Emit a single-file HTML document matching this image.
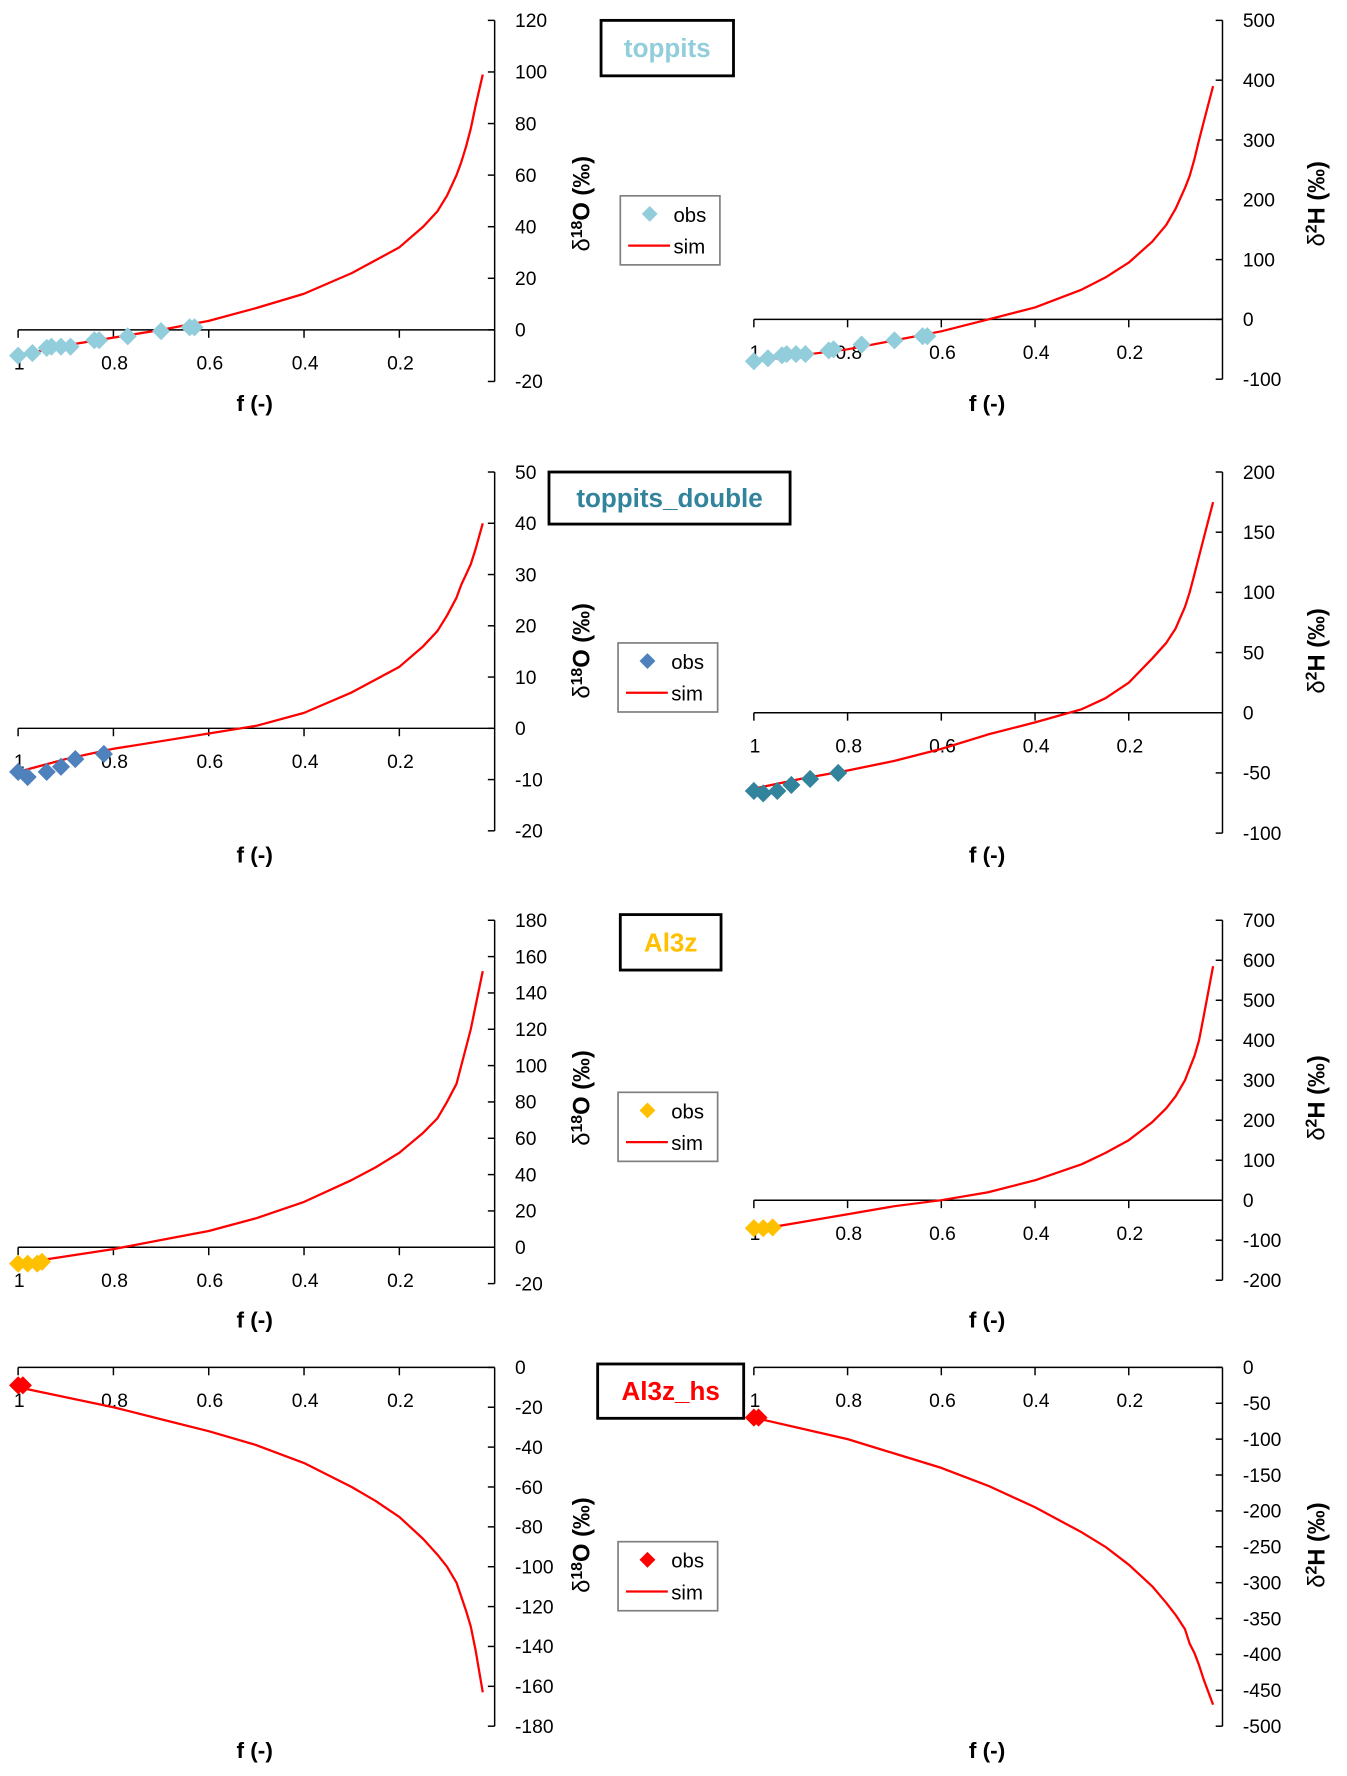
<!DOCTYPE html>
<html><head><meta charset="utf-8">
<style>
html,body{margin:0;padding:0;background:#fff;}
svg{display:block;font-family:"Liberation Sans",sans-serif;}
</style></head>
<body>
<svg id="fig" width="1347" height="1776" viewBox="0 0 1190 1569" preserveAspectRatio="none" xmlns="http://www.w3.org/2000/svg"></svg>
<script>
// ---- data ----
const simF = [1,0.9,0.8,0.7,0.6,0.5,0.4,0.3,0.25,0.2,0.15,0.12,0.1,0.08,0.07,0.06,0.05,0.04,0.025];
const simFH = [1,0.9,0.8,0.7,0.6,0.5,0.4,0.3,0.25,0.2,0.15,0.12,0.1,0.08,0.07,0.06,0.05,0.04,0.02];
const xTicks = [1,0.8,0.6,0.4,0.2];

const p1O_sim = [-10,-6,-3,0,3.5,8.5,14,22,27,32,40,46,52,60,65,71,78,87,99];
const p1O_obsF = [1,0.97,0.94,0.93,0.91,0.89,0.84,0.83,0.77,0.70,0.64,0.63];
const p1O_obs = [-10,-9,-7,-6.5,-6.5,-6.5,-4,-4,-2.5,-0.5,1,1];
const p1O_ticks = [120,100,80,60,40,20,0,-20];
const p1H_sim = [-70,-60,-50,-35,-20,0,20,50,70,95,130,158,185,220,240,268,300,330,390];
const p1H_obsF = [1,0.97,0.94,0.93,0.91,0.89,0.84,0.83,0.77,0.70,0.64,0.63];
const p1H_obs = [-70,-65,-60,-58,-58,-58,-52,-50,-42,-35,-28,-28];
const p1H_ticks = [500,400,300,200,100,0,-100];

const p2O_sim = [-8.5,-6,-4,-2.5,-1,0.5,3,7,9.5,12,16,19,22,25.5,28,30,32,35,40];
const p2O_obsF = [1,0.98,0.94,0.91,0.88,0.82];
const p2O_obs = [-8.5,-9.5,-8.5,-7.5,-6,-5];
const p2O_ticks = [50,40,30,20,10,0,-10,-20];
const p2H_sim = [-63,-55,-48,-40,-30,-18,-8,3,12,25,45,58,70,88,100,115,130,145,175];
const p2H_obsF = [1,0.98,0.95,0.92,0.88,0.82];
const p2H_obs = [-65,-67,-65,-60,-55,-50];
const p2H_ticks = [200,150,100,50,0,-50,-100];

const p3O_sim = [-9,-5,-1,4,9,16,25,37,44,52,63,71,80,90,100,110,120,133,152];
const p3O_obsF = [1,0.98,0.96,0.95];
const p3O_obs = [-9,-9,-9,-8];
const p3O_ticks = [180,160,140,120,100,80,60,40,20,0,-20];
const p3H_sim = [-75,-55,-35,-15,0,20,50,90,118,150,195,230,260,300,330,360,400,460,585];
const p3H_obsF = [1,0.98,0.96];
const p3H_obs = [-70,-70,-68];
const p3H_ticks = [700,600,500,400,300,200,100,0,-100,-200];

const p4O_sim = [-10,-15,-20,-26,-32,-39,-48,-60,-67,-75,-86,-94,-100,-108,-115,-122,-130,-142,-163];
const p4O_obsF = [1,0.99];
const p4O_obs = [-9,-9];
const p4O_ticks = [0,-20,-40,-60,-80,-100,-120,-140,-160,-180];
const p4H_sim = [-70,-85,-100,-120,-140,-165,-195,-230,-250,-275,-305,-328,-345,-365,-385,-398,-415,-435,-470];
const p4H_obsF = [1,0.99];
const p4H_obs = [-70,-70];
const p4H_ticks = [0,-50,-100,-150,-200,-250,-300,-350,-400,-450,-500];

// ---- drawing ----
const NS="http://www.w3.org/2000/svg";
const svg=document.getElementById('fig');
function mk(tag,attrs,parent,text){const e=document.createElementNS(NS,tag);for(const k in attrs)e.setAttribute(k,attrs[k]);if(text!==undefined)e.textContent=text;(parent||svg).appendChild(e);return e;}

function chart(cfg){
  const g=mk('g',{});
  
  
  const x0=cfg.left, x1=cfg.axisX;
  const fx=f=>x0+(1-f)*(x1-x0);
  const vmax=cfg.ticks[0], vmin=cfg.ticks[cfg.ticks.length-1];
  const fy=v=>cfg.top+(vmax-v)/(vmax-vmin)*(cfg.bottom-cfg.top);
  const ya=mk('line',{x1:x1,y1:cfg.top,x2:x1,y2:cfg.bottom,stroke:'#000','stroke-width':1.3},g);
  
  cfg.ticks.forEach(t=>{
    const y=fy(t);
    mk('line',{x1:x1-6,y1:y,x2:x1,y2:y,stroke:'#000','stroke-width':1.3},g);
    const tl=mk('text',{x:x1+18,y:y+6,'font-size':17},g,String(t));
    
  });
  const y0=fy(0);
  const xa=mk('line',{x1:x0,y1:y0,x2:x1,y2:y0,stroke:'#000','stroke-width':1.3},g);
  
  xTicks.forEach(t=>{
    const x=fx(t);
    mk('line',{x1:x,y1:y0,x2:x,y2:y0+7,stroke:'#000','stroke-width':1.3},g);
    const xl=mk('text',{x:x+1,y:y0+cfg.xlabOff,'font-size':17,'text-anchor':'middle'},g,String(t));
    
  });
  const pts=cfg.simF.map((f,i)=>fx(f).toFixed(1)+','+fy(cfg.sim[i]).toFixed(1)).join(' ');
  const pl=mk('polyline',{points:pts,fill:'none',stroke:'#ff0000','stroke-width':2,'stroke-linejoin':'round'},g);
  
  cfg.obsF.forEach((f,i)=>{
    const x=fx(f),y=fy(cfg.obs[i]),s=8;
    const d=mk('polygon',{points:`${x},${y-s} ${x+s},${y} ${x},${y+s} ${x-s},${y}`,fill:cfg.color},g);
    
  });
  const xt=mk('text',{x:cfg.xtX,y:cfg.xtY,'font-size':20,'font-weight':'bold','text-anchor':'middle'},g,'f (-)');
  
  const yt=mk('text',{transform:`translate(${cfg.ytX},${cfg.ytY}) rotate(-90)`,'font-size':21,'font-weight':'bold','text-anchor':'middle'},g);
  
  mk('tspan',{'font-weight':'normal'},yt,'δ');
  mk('tspan',{'font-size':14,dy:-7},yt,cfg.iso==='O'?'18':'2');
  mk('tspan',{dy:7},yt,(cfg.iso==='O'?'O':'H')+' (‰)');
}

function legend(x,y,color,name){
  const g=mk('g',{});
  
  mk('rect',{x:x,y:y,width:88,height:61,fill:'#fff',stroke:'#808080','stroke-width':1.5},g);
  mk('polygon',{points:`${x+26},${y+9} ${x+33},${y+16} ${x+26},${y+23} ${x+19},${y+16}`,fill:color},g);
  const a=mk('text',{x:x+47,y:y+23,'font-size':18},g,'obs');
  
  mk('line',{x1:x+7,y1:y+44,x2:x+44,y2:y+44,stroke:'#ff0000','stroke-width':2},g);
  const b=mk('text',{x:x+47,y:y+51,'font-size':18},g,'sim');
  
}
function titleBox(x,y,w,h,color,txt){
  const g=mk('g',{});
  
  mk('rect',{x:x,y:y,width:w,height:h,fill:'#fff',stroke:'#000','stroke-width':2.5},g);
  mk('text',{x:x+w/2,y:y+h/2+8,'font-size':23,'font-weight':'bold',fill:color,'text-anchor':'middle'},g,txt);
}

const rows=[
 {top:18,bot:337,topH:18,botH:335,xtY:363,O:[p1O_sim,p1O_obsF,p1O_obs,p1O_ticks],H:[p1H_sim,p1H_obsF,p1H_obs,p1H_ticks],cO:'#92cddc',cH:'#92cddc',yt:180},
 {top:417,bot:734,topH:417,botH:736,xtY:762,O:[p2O_sim,p2O_obsF,p2O_obs,p2O_ticks],H:[p2H_sim,p2H_obsF,p2H_obs,p2H_ticks],cO:'#4f81bd',cH:'#31849b',yt:575},
 {top:813,bot:1134,topH:813,botH:1131,xtY:1173,O:[p3O_sim,p3O_obsF,p3O_obs,p3O_ticks],H:[p3H_sim,p3H_obsF,p3H_obs,p3H_ticks],cO:'#ffc000',cH:'#ffc000',yt:970},
 {top:1208,bot:1525,topH:1208,botH:1525,xtY:1553,O:[p4O_sim,p4O_obsF,p4O_obs,p4O_ticks],H:[p4H_sim,p4H_obsF,p4H_obs,p4H_ticks],cO:'#ff0000',cH:'#ff0000',yt:1365}
];
rows.forEach((r,i)=>{
  chart({name:'chart-d18O-'+(i+1),left:16,axisX:437,top:r.top,bottom:r.bot,ticks:r.O[3],simF:simF,sim:r.O[0],obsF:r.O[1],obs:r.O[2],color:r.cO,xlabOff:35,xtX:225,xtY:r.xtY,ytX:521,ytY:r.yt,iso:'O'});
  chart({name:'chart-d2H-'+(i+1),left:666,axisX:1080,top:r.topH,bottom:r.botH,ticks:r.H[3],simF:simFH,sim:r.H[0],obsF:r.H[1],obs:r.H[2],color:r.cH,xlabOff:35,xtX:872,xtY:r.xtY,ytX:1170,ytY:r.yt,iso:'H'});
});
titleBox(531,18,117,49,'#92cddc','toppits');
titleBox(485,417,213,46,'#31849b','toppits_double');
titleBox(548,808,89,49,'#ffc000','Al3z');
titleBox(528,1205,129,48,'#ff0000','Al3z_hs');
legend(548,173,'#92cddc','legend-1');
legend(546,568,'#4f81bd','legend-2');
legend(546,965,'#ffc000','legend-3');
legend(546,1362,'#ff0000','legend-4');
</script>
</body></html>
